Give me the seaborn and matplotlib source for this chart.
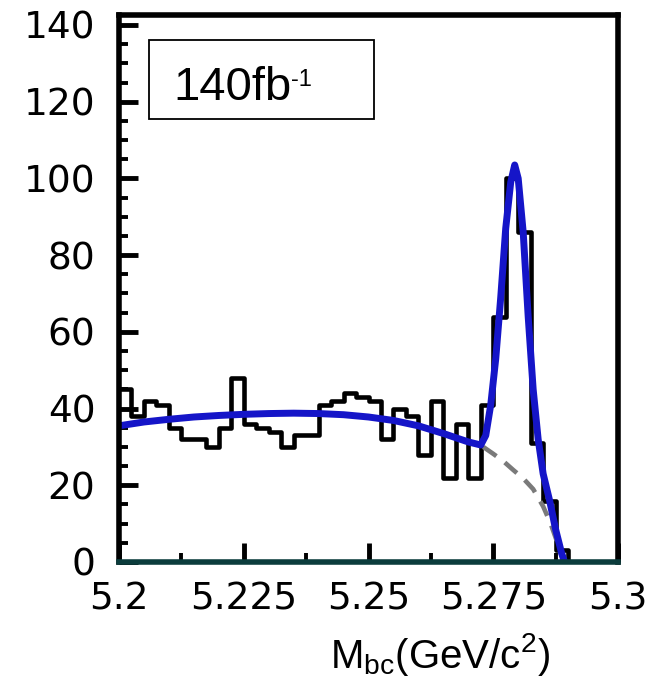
import numpy as np
import pandas as pd
import matplotlib
matplotlib.use("Agg")
import matplotlib.pyplot as plt
import seaborn as sns
from matplotlib.ticker import MultipleLocator, FixedLocator
from matplotlib.patches import Rectangle

# ---------------- data ----------------
bin_edges = [round(5.2 + 0.0025 * k, 4) for k in range(38)]          # 0.0025 GeV bins
counts = [45, 38, 42, 41, 35, 32, 32, 30, 35, 48,
          36, 35, 34, 30, 33, 33, 41, 42, 44, 43,
          42, 32, 40, 38, 28, 42, 22, 36, 22, 41,
          64, 100, 86, 31, 16, 3, 0]

fit_x = [5.200, 5.205, 5.210, 5.215, 5.220, 5.225, 5.230, 5.235, 5.240, 5.245,
         5.250, 5.255, 5.260, 5.265, 5.270, 5.2725, 5.2735, 5.2745, 5.2755, 5.2765,
         5.2775, 5.2785, 5.2793, 5.2800, 5.2810, 5.2820, 5.2830, 5.2840, 5.2850,
         5.2863, 5.2875, 5.2887, 5.2893]
fit_y = [35.5, 36.5, 37.2, 37.8, 38.2, 38.5, 38.7, 38.8, 38.7, 38.4,
         37.8, 36.9, 35.5, 33.5, 31.3, 30.5, 33.0, 41.0, 53.0, 69.0,
         87.0, 99.0, 103.5, 100.0, 86.0, 64.0, 45.0, 32.0, 23.0,
         16.0, 8.5, 2.3, 0.0]

bg_x = [5.2730, 5.2750, 5.2770, 5.2790, 5.2810, 5.2830, 5.2850, 5.2865, 5.2880, 5.2891]
bg_y = [30.0, 28.2, 26.3, 24.0, 21.8, 19.0, 14.5, 10.0, 4.5, 0.0]

y_ticks = [0, 20, 40, 60, 80, 100, 120, 140]
x_ticks = [5.2, 5.225, 5.25, 5.275, 5.3]
x_tick_labels = ["5.2", "5.225", "5.25", "5.275", "5.3"]
lumi_text = "140fb"
lumi_sup = "-1"
x_label = r"M$_{\mathrm{bc}}$(GeV/c$^{2}$)"

# ---------------- figure ----------------
sns.set_style("ticks")
plt.rcParams["font.family"] = ["DejaVu Sans"]
plt.rcParams["text.color"] = "black"
plt.rcParams["mathtext.fontset"] = "custom"
plt.rcParams["mathtext.rm"] = "Liberation Sans"
plt.rcParams["mathtext.it"] = "Liberation Sans:italic"

fig = plt.figure(figsize=(6.56, 6.82), dpi=100)
ax = fig.add_axes([119 / 656, 120 / 682, 499 / 656, 547 / 682])

centers = [(a + b) / 2 for a, b in zip(bin_edges[:-1], bin_edges[1:])]
df = pd.DataFrame({"mbc": centers, "n": counts})
sns.histplot(data=df, x="mbc", weights="n", bins=bin_edges, element="step",
             fill=False, color="black", linewidth=3.3, ax=ax)

sns.lineplot(x=bg_x, y=bg_y, color="#7a7a7a", linewidth=3.3, ax=ax)
ax.lines[-1].set_linestyle((0, (3.5, 2.3)))
sns.lineplot(x=fit_x, y=fit_y, color="#1515c8", linewidth=5.0, ax=ax, sort=False)

ax.set_xlim(5.2, 5.3)
ax.set_ylim(0, 142.6)
ax.xaxis.set_major_locator(FixedLocator(x_ticks))
ax.set_xticklabels(x_tick_labels)
ax.xaxis.set_minor_locator(MultipleLocator(0.0125))
ax.yaxis.set_major_locator(FixedLocator(y_ticks))
ax.yaxis.set_minor_locator(MultipleLocator(5))

for s in ax.spines.values():
    s.set_visible(True)
    s.set_linewidth(4.0)
    s.set_color("black")
ax.spines["bottom"].set_color("#0b3c3c")

ax.tick_params(axis="both", which="major", direction="in", length=14, width=3.5,
               labelsize=27, color="black", labelcolor="black", top=False, right=False)
ax.tick_params(axis="both", which="minor", direction="in", length=6.5, width=2.8,
               color="black", top=False, right=False)
ax.tick_params(axis="y", which="major", pad=17)
ax.tick_params(axis="x", which="major", pad=14)

ax.set_xlabel("")
ax.set_ylabel("")

# luminosity box
ax.add_patch(Rectangle((0.060, 0.810), 0.451, 0.144, transform=ax.transAxes,
                       fill=True, facecolor="white", edgecolor="black",
                       linewidth=1.3, zorder=5))
ax.text(0.108, 0.845, lumi_text, transform=ax.transAxes, fontsize=34, color="black",
        family="Liberation Sans", va="baseline", ha="left", zorder=6)
ax.text(0.345, 0.870, lumi_sup, transform=ax.transAxes, fontsize=17, color="black",
        family="Liberation Sans", va="baseline", ha="left", zorder=6)

fig.text(440 / 656, 1 - 654 / 682, x_label, fontsize=29, family="Liberation Sans",
         color="black", ha="center", va="center")

fig.savefig("out.png", dpi=100)
